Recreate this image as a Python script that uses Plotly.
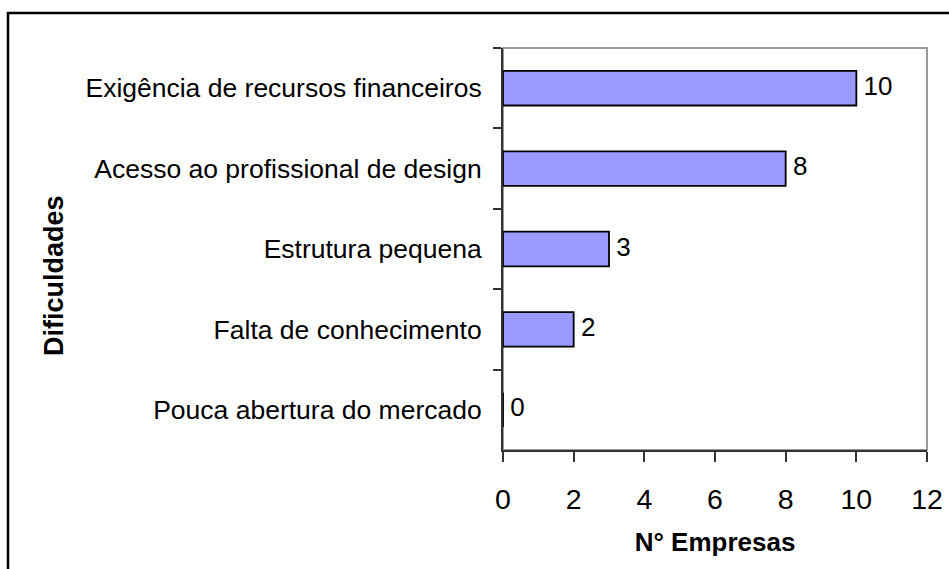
import plotly.graph_objects as go

categories = [
    "Exigência de recursos financeiros",
    "Acesso ao profissional de design",
    "Estrutura pequena",
    "Falta de conhecimento",
    "Pouca abertura do mercado",
]
values = [10, 8, 3, 2, 0]
x_ticks = [0, 2, 4, 6, 8, 10, 12]

W, H = 949, 569
L, R, T, B = 503, 22, 48, 119
pw, ph = W - L - R, H - T - B

def px2paper_x(px):
    return (px - L) / pw

def px2paper_y(py):
    return (H - B - py) / ph

FONT = "Liberation Sans, Arial, sans-serif"

fig = go.Figure()
fig.add_trace(go.Bar(
    x=values, y=categories, orientation="h",
    marker=dict(color="#9999FF", line=dict(color="#000000", width=1.8)),
    width=0.43, hoverinfo="skip", showlegend=False,
))
fig.add_trace(go.Scatter(
    x=values, y=categories, mode="text",
    text=[" " + str(v) for v in values], textposition="middle right",
    textfont=dict(family=FONT, size=26, color="#000000"),
    hoverinfo="skip", showlegend=False, cliponaxis=False,
))

fig.update_layout(
    width=W, height=H, autosize=False,
    margin=dict(l=L, r=R, t=T, b=B, pad=0, autoexpand=False),
    paper_bgcolor="#FFFFFF", plot_bgcolor="#FFFFFF",
    font=dict(family=FONT, color="#000000"),
    xaxis=dict(
        automargin=False,
        range=[0, 12], tickvals=x_ticks, ticktext=[str(t) for t in x_ticks],
        showgrid=False, zeroline=False,
        showline=True, linecolor="#333333", linewidth=2,
        ticks="outside", ticklen=10, tickwidth=1.5, tickcolor="#333333",
        tickfont=dict(family=FONT, size=28.5, color="#000000"),
        ticklabelstandoff=13,
        title=dict(text="<b>N° Empresas</b>", font=dict(family=FONT, size=26, color="#000000"), standoff=19),
    ),
    yaxis=dict(
        automargin=False,
        type="category", categoryorder="array", categoryarray=categories,
        range=[4.5, -0.5],
        showgrid=False, zeroline=False,
        showline=True, linecolor="#333333", linewidth=2,
        ticks="outside", ticklen=8, tickwidth=1.5, tickcolor="#333333",
        tickson="boundaries",
        tickfont=dict(family=FONT, size=26.5, color="#000000"),
        ticklabelstandoff=14,
    ),
    shapes=[
        dict(type="rect", xref="paper", yref="paper", x0=0, y0=0, x1=1, y1=1,
             line=dict(color="#999999", width=2), layer="below"),
        dict(type="rect", xref="paper", yref="paper",
             x0=px2paper_x(8), y0=px2paper_y(590), x1=px2paper_x(970), y1=px2paper_y(13),
             line=dict(color="#000000", width=2.5), layer="above"),
    ],
    annotations=[
        dict(text="<b>Dificuldades</b>", xref="paper", yref="paper",
             x=px2paper_x(54), y=px2paper_y(276), showarrow=False, textangle=-90,
             font=dict(family=FONT, size=27, color="#000000"),
             xanchor="center", yanchor="middle"),
    ],
)

fig.write_html(
    "out.html",
    config={"displayModeBar": False},
    post_script="document.body.style.margin='0';document.body.style.padding='0';document.body.style.overflow='hidden';",
)
